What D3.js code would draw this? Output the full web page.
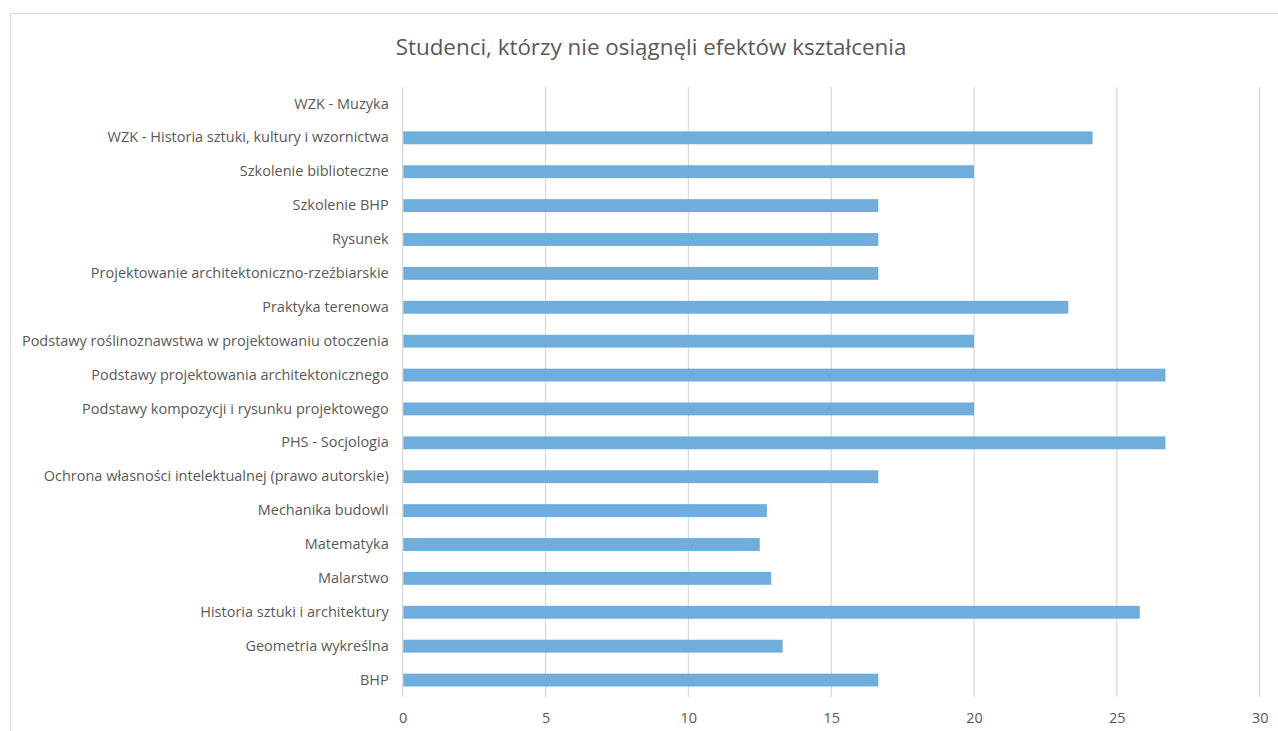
<!DOCTYPE html>
<html><head><meta charset="utf-8">
<script src="https://cdn.jsdelivr.net/npm/d3@7"></script>
<style>body{margin:0;background:#fff;}svg{display:block;}</style>
</head><body>
<svg id="c" width="1278" height="731"></svg>
<script>
const title = "Studenci, którzy nie osiągnęli efektów kształcenia";
const categories = [
  "WZK - Muzyka",
  "WZK - Historia sztuki, kultury i wzornictwa",
  "Szkolenie biblioteczne",
  "Szkolenie BHP",
  "Rysunek",
  "Projektowanie architektoniczno-rzeźbiarskie",
  "Praktyka terenowa",
  "Podstawy roślinoznawstwa w projektowaniu otoczenia",
  "Podstawy projektowania architektonicznego",
  "Podstawy kompozycji i rysunku projektowego",
  "PHS - Socjologia",
  "Ochrona własności intelektualnej (prawo autorskie)",
  "Mechanika budowli",
  "Matematyka",
  "Malarstwo",
  "Historia sztuki i architektury",
  "Geometria wykreślna",
  "BHP"
];
const values = [0, 24.15, 20, 16.65, 16.65, 16.65, 23.3, 20, 26.7, 20, 26.7, 16.65, 12.75, 12.5, 12.9, 25.8, 13.3, 16.65];
const xTicks = [0, 5, 10, 15, 20, 25, 30];

(function () {
const svg = d3.select("#c");
const font = "'Open Sans', sans-serif";
const pLeft = 402.7, pRight = 1259.7, pTop = 87, pBottom = 697;

svg.append("rect").attr("x", 10.5).attr("y", 13.5).attr("width", 1300).attr("height", 800)
  .attr("fill", "#fff").attr("stroke", "#D9D9D9").attr("stroke-width", 1);

svg.append("text").attr("x", 651).attr("y", 55).attr("text-anchor", "middle")
  .attr("font-family", font).attr("font-size", 22.4).attr("fill", "#595959").text(title);

const x = d3.scaleLinear().domain([0, 30]).range([pLeft, pRight]);
const y = d3.scaleBand().domain(categories).range([pTop, pBottom]).paddingInner(0.62).paddingOuter(0.31);

svg.append("g").selectAll("line").data(xTicks.slice(1)).join("line")
  .attr("x1", d => x(d)).attr("x2", d => x(d))
  .attr("y1", pTop).attr("y2", pBottom)
  .attr("stroke", "#D9D9D9").attr("stroke-width", 1.3);
svg.append("line").attr("x1", pLeft).attr("x2", pLeft).attr("y1", pTop).attr("y2", pBottom)
  .attr("stroke", "#D9D9D9").attr("stroke-width", 1.3);

svg.append("g").selectAll("rect").data(values).join("rect")
  .attr("x", x(0) + 0.6)
  .attr("y", (d, i) => y(categories[i]))
  .attr("width", d => Math.max(0, x(d) - x(0) - 0.6))
  .attr("height", y.bandwidth())
  .attr("fill", "#6FADDC");

const xAxis = d3.axisBottom(x).tickValues(xTicks).tickSize(0).tickPadding(16);
const gx = svg.append("g").attr("transform", `translate(0,${pBottom})`).call(xAxis);
gx.select(".domain").remove();
gx.selectAll("text").attr("font-family", font).attr("font-size", 14.5).attr("fill", "#595959");

const yAxis = d3.axisLeft(y).tickSize(0).tickPadding(14);
const gy = svg.append("g").attr("transform", `translate(${pLeft},0)`).call(yAxis);
gy.select(".domain").remove();
gy.selectAll("text").attr("font-family", font).attr("font-size", 14.5).attr("fill", "#595959");
})();
</script>
</body></html>
